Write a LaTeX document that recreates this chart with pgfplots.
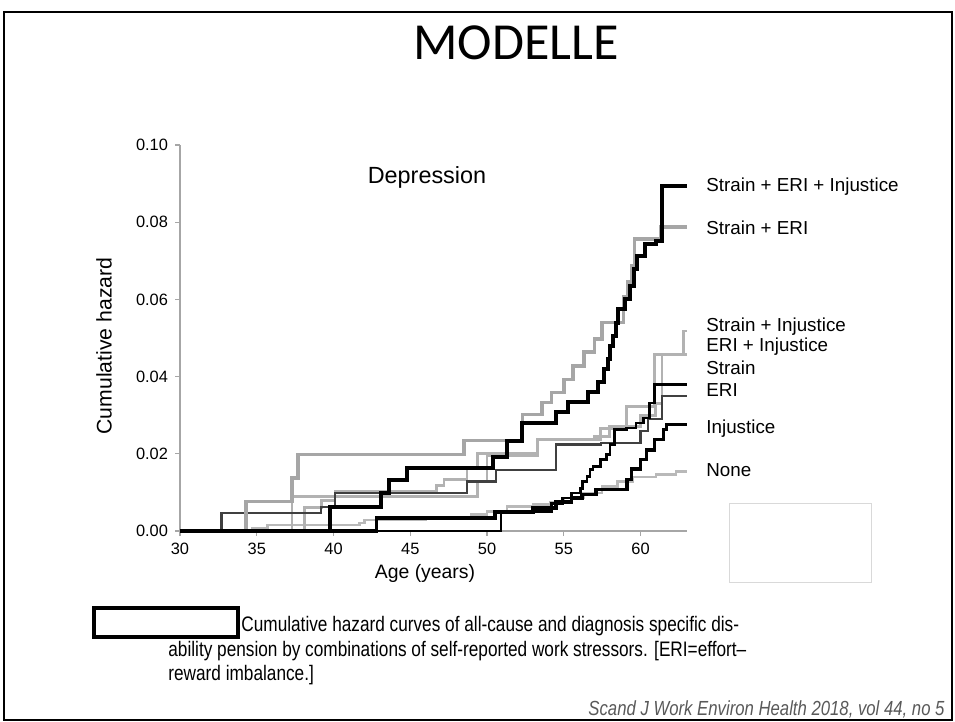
\documentclass[border=0pt]{standalone}
\usepackage{fontspec}
\setmainfont{Liberation Sans}
\newfontfamily\titlefont{Carlito}
\newfontfamily\capfont[FakeStretch=0.82]{Liberation Sans}
\usepackage{pgfplots}
\pgfplotsset{compat=1.18}

\begin{document}
\begin{tikzpicture}
% 1 px of the reference = 0.5pt, y downwards as negative
\useasboundingbox (0,0) rectangle (477.5pt,-361pt);
\draw[line width=1pt] (2pt,-6pt) rectangle (476pt,-360pt);
\node[font=\titlefont\fontsize{26}{30}\selectfont] at (258pt,-21.5pt) {MODELLE};

\begin{axis}[
  at={(90pt,-265.5pt)}, anchor=south west,
  width=253.3pt, height=193pt, scale only axis,
  xmin=30, xmax=63, ymin=0, ymax=0.10,
  axis lines*=left, axis line style={gray!70, line width=0.6pt},
  xtick={30,35,...,60}, ytick={0,0.02,...,0.1},
  tick align=outside, major tick length=2.5pt,
  tick style={gray!70, line width=0.6pt},
  /pgf/number format/assume math mode=true,
  yticklabel style={/pgf/number format/fixed, /pgf/number format/fixed zerofill,
    /pgf/number format/precision=2, font=\fontsize{8.2}{10}\selectfont},
  xticklabel style={font=\fontsize{8.2}{10}\selectfont},
  scaled y ticks=false,
  clip=false,
  every axis plot/.append style={const plot mark left, no markers},
]
% None
\addplot[gray!55, line width=1.3pt] coordinates {
  (30,0) (34.7,0.0008) (35.7,0.0016) (41.7,0.0021) (42.0,0.0029) (46.0,0.0036)
  (49.0,0.0042) (50.0,0.0050) (51.3,0.0063) (53.0,0.0068) (54.1,0.0075)
  (55.0,0.0085) (56.3,0.0098) (57.5,0.0115) (58.5,0.0128) (59.5,0.0140)
  (61.0,0.0147) (62.3,0.0154) (63,0.0154)};
% Strain + Injustice
\addplot[gray!60, line width=1.4pt] coordinates {
  (30,0) (37.3,0.0089) (40.1,0.0102) (46.7,0.0117) (47.2,0.0133) (48.7,0.0164)
  (49.4,0.0200) (53.3,0.0237) (57.4,0.0265) (59.1,0.0323) (60.9,0.0458)
  (62.8,0.0518) (63,0.0518)};
% ERI + Injustice
\addplot[gray!60, line width=1.4pt] coordinates {
  (30,0) (38.1,0.0060) (39.2,0.0078) (40.1,0.0090) (49.4,0.0128) (50.0,0.0195)
  (53.3,0.0237) (57.0,0.0245) (58.0,0.0270) (60.0,0.0300) (61.0,0.0330)
  (61.4,0.0458) (63,0.0458)};
% Strain
\addplot[black!75, line width=1.1pt] coordinates {
  (30,0) (32.7,0.0047) (39.2,0.0063) (40.1,0.0098) (48.7,0.0128) (50.6,0.0159)
  (54.5,0.0224) (57.4,0.0229) (60.0,0.0260) (60.5,0.0290) (61.4,0.0349) (63,0.0349)};
% Strain + ERI
\addplot[gray!70, line width=1.8pt] coordinates {
  (30,0) (34.3,0.0076) (37.3,0.0138) (37.7,0.0198) (48.5,0.0234) (52.3,0.0302)
  (53.6,0.0333) (54.2,0.0359) (55.0,0.0393) (55.6,0.0427) (56.3,0.0463)
  (57.0,0.0497) (57.5,0.0540) (58.9,0.0606) (59.2,0.0645) (59.4,0.0687)
  (59.6,0.0757) (61.3,0.0788) (63,0.0788)};
% ERI
\addplot[black, line width=1.3pt] coordinates {
  (30,0) (50.9,0.0050) (54.2,0.0072) (54.9,0.0085) (55.5,0.0098) (56.1,0.0110)
  (56.2,0.0128) (56.5,0.0141) (56.7,0.0159) (56.9,0.0167) (57.4,0.0185)
  (57.8,0.0198) (58.0,0.0224) (58.3,0.0263) (59.1,0.0267) (59.7,0.0280)
  (60.2,0.0293) (60.6,0.0332) (60.9,0.0380) (63,0.0380)};
% Injustice
\addplot[black, line width=1.8pt] coordinates {
  (30,0) (42.8,0.0034) (50.5,0.0049) (53.0,0.0060) (54.5,0.0075) (55.5,0.0085)
  (56.2,0.0095) (57.1,0.0107) (59.1,0.0133) (59.4,0.0160) (60.0,0.0185)
  (60.4,0.0210) (60.9,0.0237) (61.5,0.0263) (61.7,0.0276) (63,0.0276)};
% Strain + ERI + Injustice
\addplot[black, line width=2pt] coordinates {
  (30,0) (39.8,0.0063) (43.1,0.0098) (43.6,0.0133) (44.8,0.0162) (50.4,0.0193)
  (51.3,0.0232) (52.3,0.0280) (54.5,0.0307) (55.3,0.0333) (56.6,0.0359)
  (57.2,0.0385) (57.6,0.0420) (57.9,0.0445) (58.0,0.0480) (58.2,0.0505)
  (58.4,0.0540) (58.5,0.0575) (59.0,0.0600) (59.3,0.0635) (59.6,0.0680)
  (59.8,0.0713) (60.3,0.0744) (61.0,0.0752) (61.4,0.0895) (63,0.0895)};
\end{axis}

\node[font=\fontsize{11.7}{14}\selectfont] at (213.5pt,-88.5pt) {Depression};
\node[rotate=90, font=\fontsize{10.6}{12}\selectfont] at (52pt,-173pt) {Cumulative hazard};
\node[font=\fontsize{9.7}{12}\selectfont] at (212.5pt,-286.5pt) {Age (years)};

\begin{scope}[every node/.style={anchor=west, font=\fontsize{9.4}{11}\selectfont, inner sep=0pt}]
\node at (353pt,-93.5pt) {Strain + ERI + Injustice};
\node at (353pt,-114pt) {Strain + ERI};
\node at (353pt,-163.5pt) {Strain + Injustice};
\node at (353pt,-173.5pt) {ERI + Injustice};
\node at (353pt,-184pt) {Strain};
\node at (353pt,-195pt) {ERI};
\node at (353pt,-214.5pt) {Injustice};
\node at (353pt,-235pt) {None};
\end{scope}

% empty boxes of the slide
\draw[gray!30, line width=0.5pt] (364.5pt,-251.5pt) rectangle (435.5pt,-291pt);
\draw[black, line width=2pt] (47pt,-304pt) rectangle (119pt,-318.5pt);

% caption
\begin{scope}[every node/.style={anchor=base west, inner sep=0pt, font=\capfont\fontsize{10.5}{12}\selectfont}]
\node at (120.5pt,-316pt) {Cumulative hazard curves of all-cause and diagnosis specific dis-};
\node at (84pt,-328pt) {ability pension by combinations of self-reported work stressors. [ERI=effort–};
\node at (84pt,-340pt) {reward imbalance.]};
\end{scope}
\node[anchor=base east, inner sep=0pt, text=black!65,
  font=\capfont\itshape\fontsize{10.2}{12}\selectfont] at (472.5pt,-357.5pt)
  {Scand J Work Environ Health 2018, vol 44, no 5};
\end{tikzpicture}
\end{document}
